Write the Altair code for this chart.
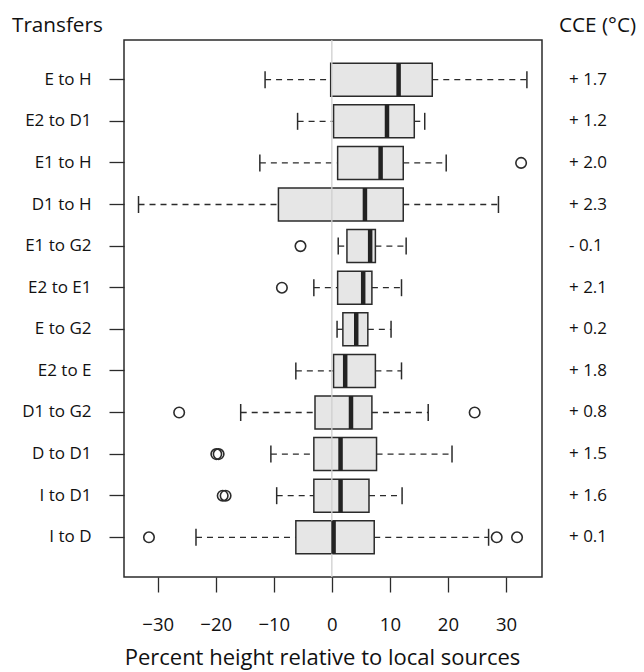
import altair as alt
import pandas as pd

# Transfer groups, top to bottom
transfers = ["E to H", "E2 to D1", "E1 to H", "D1 to H", "E1 to G2", "E2 to E1",
             "E to G2", "E2 to E", "D1 to G2", "D to D1", "I to D1", "I to D"]

# Five-number summaries (percent height relative to local sources)
whisker_low = [-11.5, -5.9, -12.4, -33.3, 1.1, -3.1, 0.9, -6.2, -15.7, -10.5, -9.5, -23.4]
q1 = [-0.2, 0.3, 1.0, -9.2, 2.6, 1.0, 1.9, 0.3, -2.9, -3.1, -3.1, -6.2]
median = [11.5, 9.5, 8.4, 5.7, 6.6, 5.4, 4.2, 2.3, 3.3, 1.5, 1.5, 0.3]
q3 = [17.3, 14.2, 12.3, 12.3, 7.5, 6.9, 6.2, 7.5, 6.9, 7.7, 6.4, 7.3]
whisker_high = [33.6, 16.0, 19.7, 28.7, 12.8, 12.0, 10.2, 12.0, 16.6, 20.7, 12.1, 27.0]

# Climate change equivalent of each transfer
cce = ["+ 1.7", "+ 1.2", "+ 2.0", "+ 2.3", "- 0.1", "+ 2.1",
       "+ 0.2", "+ 1.8", "+ 0.8", "+ 1.5", "+ 1.6", "+ 0.1"]

# Outlying observations
outlier_group = ["E1 to H", "E1 to G2", "E2 to E1", "D1 to G2", "D1 to G2",
                 "D to D1", "D to D1", "I to D1", "I to D1", "I to D", "I to D", "I to D"]
outlier_value = [32.6, -5.4, -8.6, -26.3, 24.6, -19.9, -19.5, -18.8, -18.3, -31.5, 28.4, 31.9]

boxes = pd.DataFrame({
    "transfer": transfers, "lo": whisker_low, "q1": q1, "med": median,
    "q3": q3, "hi": whisker_high, "cce": cce,
})
outliers = pd.DataFrame({"transfer": outlier_group, "value": outlier_value})

FONT = "Open Sans"
INK = "#2b2b2b"
TEXT = "#111111"

x_scale = alt.Scale(domain=[-35.8, 36.2], nice=False, zero=False)
y_enc = alt.Y("transfer:N", sort=transfers,
              scale=alt.Scale(paddingInner=0, paddingOuter=0.455),
              axis=alt.Axis(title=None, domain=False, tickSize=15, tickColor=INK,
                            tickWidth=1.3, labelPadding=18, labelFontSize=17,
                            labelColor=TEXT, labelFont=FONT))
x_axis = alt.Axis(title="Percent height relative to local sources", values=[-30, -20, -10, 0, 10, 20, 30],
                  grid=False, domain=False, tickSize=15, tickColor=INK, tickWidth=1.3,
                  labelPadding=23, labelFontSize=18.5, labelColor=TEXT, labelFont=FONT,
                  titleFontSize=22, titleFont=FONT, titleFontWeight="normal",
                  titleColor=TEXT, titleX=198, titleY=87, titleAlign="center",
                  titleBaseline="alphabetic")

base = alt.Chart(boxes)

whisk_lo = base.mark_rule(color=INK, strokeWidth=1.3, strokeDash=[6, 5], opacity=1).encode(
    x=alt.X("lo:Q", scale=x_scale, axis=x_axis), x2="q1:Q", y=y_enc)
whisk_hi = base.mark_rule(color=INK, strokeWidth=1.3, strokeDash=[6, 5], opacity=1).encode(
    x=alt.X("q3:Q", scale=x_scale), x2="hi:Q", y=y_enc)
cap_lo = base.mark_tick(color=INK, size=17, thickness=1.5, orient="vertical", opacity=1).encode(
    x=alt.X("lo:Q", scale=x_scale), y=y_enc)
cap_hi = base.mark_tick(color=INK, size=17, thickness=1.5, orient="vertical", opacity=1).encode(
    x=alt.X("hi:Q", scale=x_scale), y=y_enc)
box = base.mark_bar(size=33, fill="#e6e6e6", stroke=INK, strokeWidth=1.5, opacity=1).encode(
    x=alt.X("q1:Q", scale=x_scale), x2="q3:Q", y=y_enc)
zero = alt.Chart(pd.DataFrame({"z": [0]})).mark_rule(color="#cfcfcf", strokeWidth=1.3, opacity=1).encode(
    x=alt.X("z:Q", scale=x_scale))
med = base.mark_tick(color="#222222", size=33, thickness=4.5, orient="vertical", opacity=1).encode(
    x=alt.X("med:Q", scale=x_scale), y=y_enc)
pts = alt.Chart(outliers).mark_point(shape="circle", filled=False, size=110, opacity=1,
                                     stroke=INK, strokeWidth=1.6).encode(
    x=alt.X("value:Q", scale=x_scale), y=y_enc)
cce_text = base.mark_text(align="left", baseline="middle", font=FONT, fontSize=17,
                          color=TEXT).encode(
    x=alt.value(445), y=y_enc, text="cce:N")

headers = alt.Chart(pd.DataFrame({
    "label": ["Transfers", "CCE (°C)"], "px": [-112, 435], "py": [-8, -8],
})).mark_text(align="left", baseline="alphabetic", font=FONT, fontSize=20.7, color=TEXT).encode(
    x=alt.X("px:Q", scale=None), y=alt.Y("py:Q", scale=None), text="label:N")

chart = alt.layer(whisk_lo, whisk_hi, cap_lo, cap_hi, box, zero, med, pts, cce_text, headers).properties(
    width=418, height=537,
    autosize=alt.AutoSizeParams(type="none"),
    padding={"left": 124, "top": 40, "right": 102, "bottom": 95},
    background="white",
).configure_view(stroke=INK, strokeWidth=1.5)

chart.save("out.html", embed_options={"renderer": "svg", "actions": False})
